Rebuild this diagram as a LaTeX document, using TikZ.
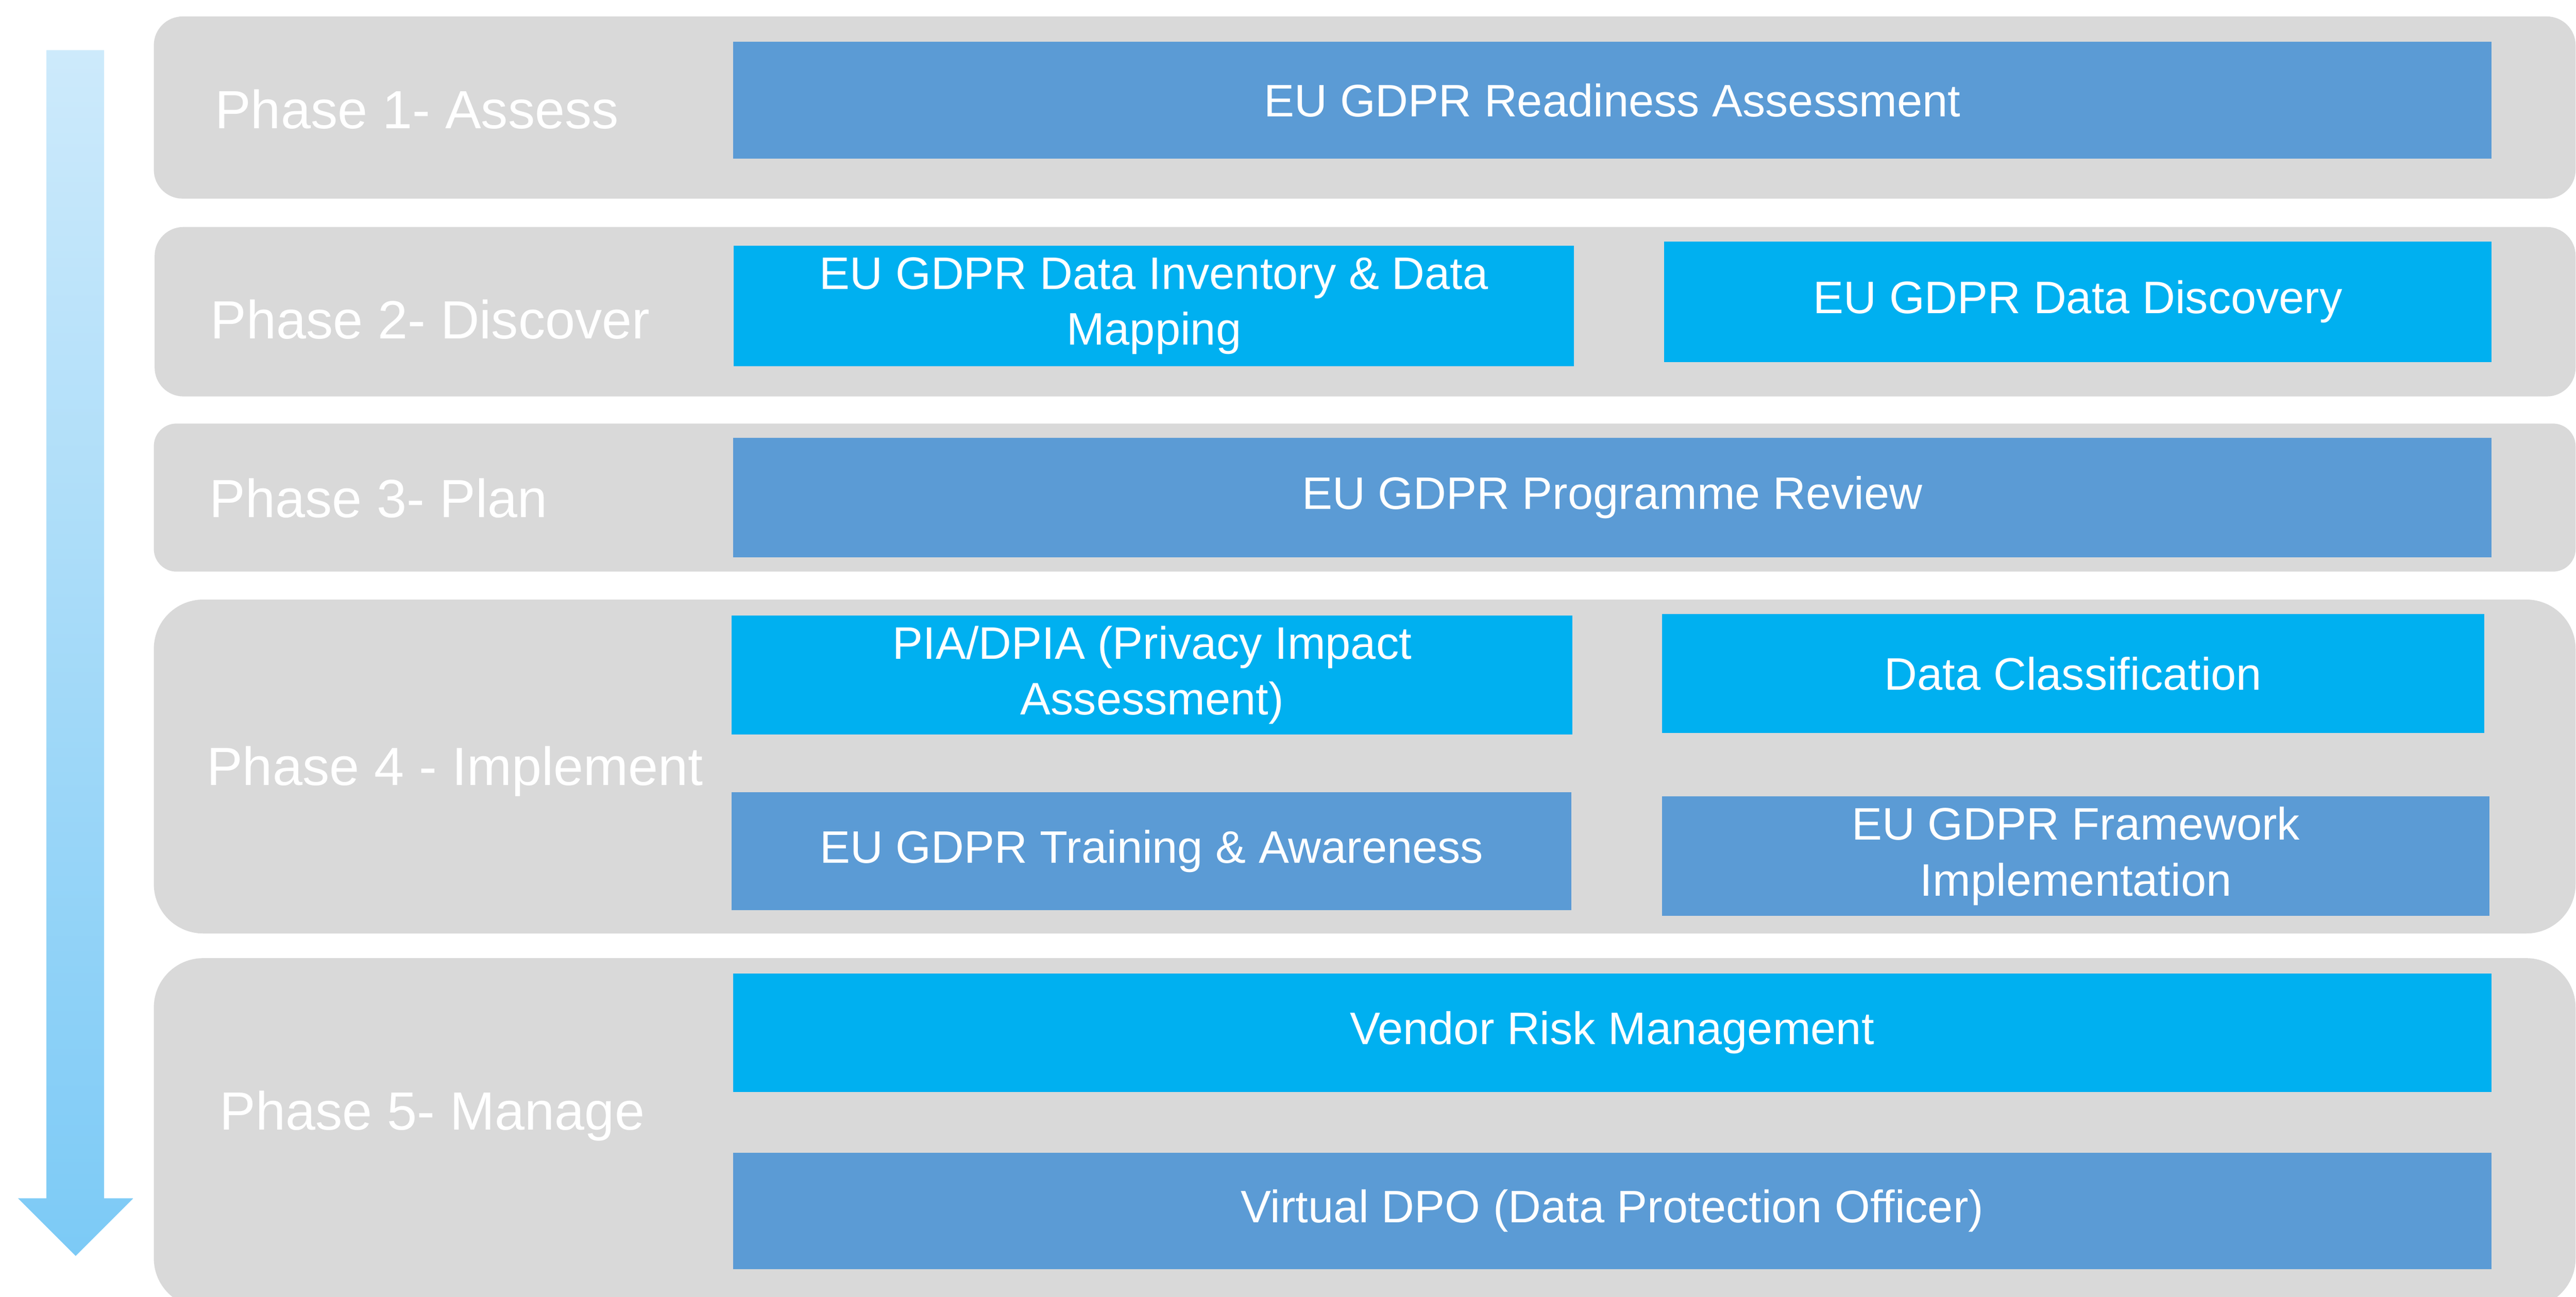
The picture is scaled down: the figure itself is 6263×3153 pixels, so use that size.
\documentclass[tikz,border=0pt]{standalone}
\usepackage{fontspec}
\setmainfont{Liberation Sans}
\definecolor{graybox}{HTML}{D9D9D9}
\definecolor{darkblue}{HTML}{5B9BD5}
\definecolor{lightblue}{HTML}{00B0F0}
\definecolor{arrtop}{HTML}{CDEAFB}
\definecolor{arrbot}{HTML}{7CCAF6}
\tikzset{
  phasebox/.style={fill=graybox, draw=none, inner sep=0pt},
  dbox/.style={fill=darkblue, draw=none, inner sep=0pt, text=white, align=center,
    font=\fontsize{31.5}{38.5}\selectfont},
  lbox/.style={fill=lightblue, draw=none, inner sep=0pt, text=white, align=center,
    font=\fontsize{31.5}{38.5}\selectfont},
  phaselabel/.style={text=white, inner sep=0pt, anchor=base west,
    font=\fontsize{37.2}{44}\selectfont},
}
% \blk{name}{x1}{y1}{x2}{y2}{style}{text}  (pixel coordinates, y down)
\newcommand\blk[7]{%
  \node[#6, minimum width={(#4-#2)*0.01cm}, minimum height={(#5-#3)*0.01cm}]
    (#1) at ({(#2+#4)/2},{(#3+#5)/2}) {#7};}
\begin{document}
\begin{tikzpicture}[x=0.01cm,y=-0.01cm]
\useasboundingbox (0,0) rectangle (6263,3153);
\clip (0,0) rectangle (6263,3153);
\fill[white] (0,0) rectangle (6263,3153);
% arrow
\shade[top color=arrtop, bottom color=arrbot]
  (113,122) -- (253,122) -- (253,2914) -- (324,2914) -- (184,3054) -- (44,2914) -- (113,2914) -- cycle;
% phase boxes
\blk{g1}{374}{40}{6262}{483}{phasebox, rounded corners=0.7cm}{}
\blk{g2}{376}{552}{6262}{964}{phasebox, rounded corners=0.7cm}{}
\blk{g3}{374}{1030}{6262}{1390}{phasebox, rounded corners=0.55cm}{}
\blk{g4}{374}{1458}{6262}{2270}{phasebox, rounded corners=1.2cm}{}
\blk{g5}{374}{2330}{6262}{3180}{phasebox, rounded corners=1.2cm}{}
% phase labels
\node[phaselabel] (l1) at (522,312) {Phase 1- Assess};
\node[phaselabel] (l2) at (511,823) {Phase 2- Discover};
\node[phaselabel] (l3) at (509,1258) {Phase 3- Plan};
\node[phaselabel] (l4) at (502,1910) {Phase 4 - Implement};
\node[phaselabel] (l5) at (534,2747) {Phase 5- Manage};
% blue boxes
\blk{b1}{1782}{102}{6058}{386}{dbox}{EU GDPR Readiness Assessment}
\blk{b2a}{1784}{598}{3827}{890}{lbox}{EU GDPR Data Inventory \& Data\\Mapping}
\blk{b2b}{4046}{588}{6058}{880}{lbox}{EU GDPR Data Discovery}
\blk{b3}{1782}{1065}{6058}{1355}{dbox}{EU GDPR Programme Review}
\blk{b4a}{1779}{1497}{3823}{1786}{lbox}{PIA/DPIA (Privacy Impact\\Assessment)}
\blk{b4b}{4041}{1493}{6040}{1783}{lbox}{Data Classification}
\blk{b4c}{1779}{1927}{3821}{2213}{dbox}{EU GDPR Training \& Awareness}
\blk{b4d}{4041}{1937}{6053}{2227}{dbox}{EU GDPR Framework\\Implementation}
\blk{b5a}{1782}{2367}{6057}{2655}{lbox}{Vendor Risk Management}
\blk{b5b}{1782}{2803}{6057}{3086}{dbox}{Virtual DPO (Data Protection Officer)}
\end{tikzpicture}
\end{document}
